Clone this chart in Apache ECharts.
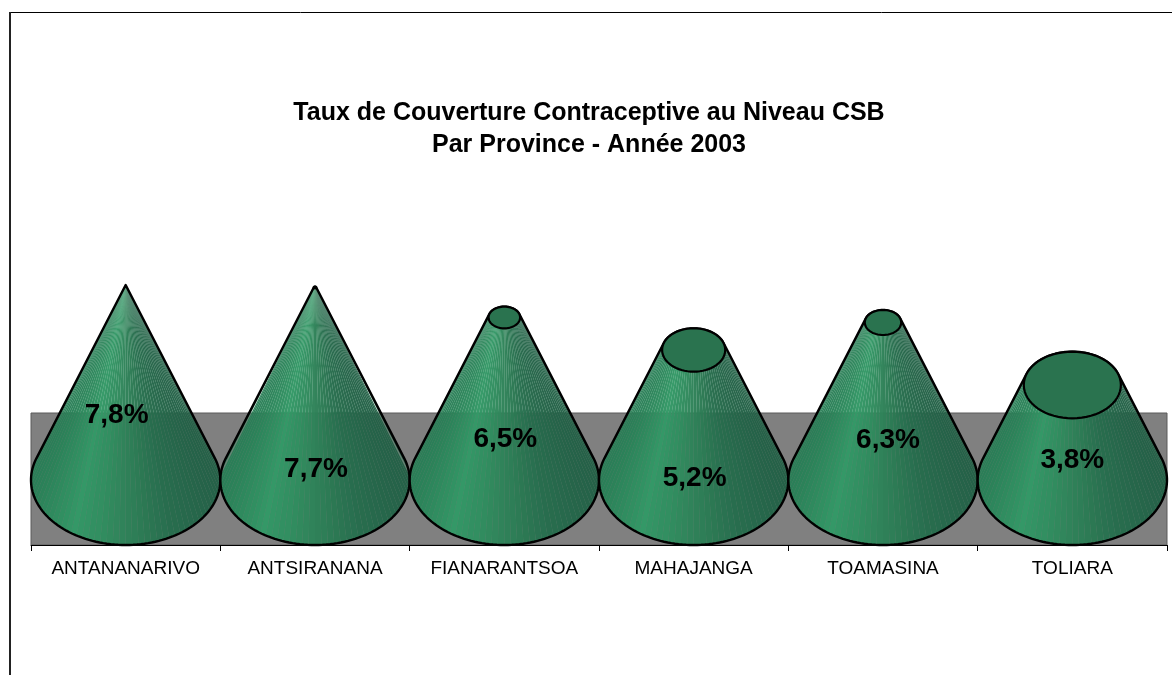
<!DOCTYPE html>
<html>
<head>
<meta charset="utf-8">
<style>html,body{margin:0;padding:0;background:#fff}#c{width:1172px;height:675px}</style>
<script src="https://cdn.jsdelivr.net/npm/echarts@6/dist/echarts.min.js"></script>
</head>
<body>
<div id="c"></div>
<script>
const provinces = ['ANTANANARIVO','ANTSIRANANA','FIANARANTSOA','MAHAJANGA','TOAMASINA','TOLIARA'];
const rates = [7.8,7.7,6.5,5.2,6.3,3.8];
const rateLabels = ['7,8%','7,7%','6,5%','5,2%','6,3%','3,8%'];
// vertical anchor of each data label, in axis units, and its sideways nudge in pixels
const labelAnchors = [2.6,0.44,1.64,0.08,1.6,0.8];
const labelNudges = [-9,1,1,1,5,0];
const axisMin = -2.6, axisMax = 7.8, wallTop = 2.68;

// shade stops: [x on the cone (-1..1), r, g, b]
const shade = [[-1,40,126,86],[-0.55,51,153,102],[0,46,130,88],[0.5,38,108,76],[1,35,96,70]];
function shadeAt(x){
  for(let i=1;i<shade.length;i++){
    if(x<=shade[i][0]){
      const a=shade[i-1],b=shade[i],t=(x-a[0])/(b[0]-a[0]);
      return 'rgba('+[1,2,3].map(k=>Math.round(a[k]+(b[k]-a[k])*t)).join(',')+',0.97)';
    }
  }
  return 'rgb(35,96,70)';
}

function renderCone(params, api){
  const idx = api.value(0), v = api.value(1);
  const base = api.coord([idx,0]), top = api.coord([idx,v]), apex = api.coord([idx,axisMax]);
  const R = api.size([1,0])[0]/2;
  const Ry = api.coord([idx,axisMin])[1]-base[1];
  const cx = base[0], by = base[1], ty = top[1];
  const h = by-apex[1];
  const f = (ty-apex[1])/h;           // top radius as a share of the base radius
  const rx = R*f, ry = Ry*f;
  const tilt = Math.asin(Ry/h);
  const N = 56, kids = [];
  const P = (th,rr,rv,yy)=>[cx+rr*Math.cos(th),yy+rv*Math.sin(th)];
  // silhouette
  const pts=[];
  for(let i=0;i<=96;i++){pts.push(P(-tilt+(Math.PI+2*tilt)*i/96,R,Ry,by));}
  if(f>0.001){
    for(let i=0;i<=48;i++){pts.push(P(Math.PI+tilt+(Math.PI-2*tilt)*i/48,rx,ry,ty));}
  } else {pts.push([cx,ty]);}
  kids.push({type:'polygon',silent:true,shape:{points:pts},
    style:{fill:'rgba(46,130,88,0.25)'}});
  for(let i=0;i<N;i++){
    const a=-tilt+(Math.PI+2*tilt)*i/N, b=-tilt+(Math.PI+2*tilt)*(i+1)/N;
    const m=Math.cos((a+b)/2);
    kids.push({type:'polygon',silent:true,
      shape:{points:[P(a,R,Ry,by),P(b,R,Ry,by),P(b,rx,ry,ty),P(a,rx,ry,ty)]},
      style:{fill:shadeAt(m)}});
  }
  kids.push({type:'polygon',silent:true,shape:{points:pts},
    style:{fill:'none',stroke:'#000',lineWidth:2.4,lineJoin:'round'}});
  if(f>0.001){
    const cap=[];
    for(let i=0;i<64;i++){cap.push(P(2*Math.PI*i/64,rx,ry,ty));}
    kids.push({type:'polygon',silent:true,shape:{points:cap},
      style:{fill:'#2a734f',stroke:'#000',lineWidth:2.2}});
  }
  const lp = api.coord([idx,labelAnchors[idx]]);
  kids.push({type:'text',silent:true,
    style:{x:cx+labelNudges[idx],y:lp[1],text:rateLabels[idx],fill:'#000',
      font:'bold 28px "Liberation Sans", Arial, sans-serif',textAlign:'center',textVerticalAlign:'middle'}});
  return {type:'group',children:kids};
}

const chart = echarts.init(document.getElementById('c'),null,{renderer:'canvas'});
chart.setOption({
  animation:false,
  backgroundColor:'#fff',
  title:{
    text:'Taux de Couverture Contraceptive au Niveau CSB\nPar Province - Année 2003',
    left:584, top:92, textAlign:'center',
    textStyle:{fontFamily:'"Liberation Sans", Arial, sans-serif',fontWeight:'bold',fontSize:25,lineHeight:32,color:'#000'}
  },
  grid:{left:31,right:5,top:285,bottom:130},
  xAxis:{type:'category',data:provinces,boundaryGap:true,
    axisLine:{onZero:false,lineStyle:{color:'#000',width:1}},
    axisTick:{show:true,alignWithLabel:false,length:6,lineStyle:{color:'#000'}},
    axisLabel:{interval:0,color:'#000',fontSize:19,margin:14,fontFamily:'"Liberation Sans", Arial, sans-serif'},
    splitLine:{show:false}},
  yAxis:{type:'value',min:axisMin,max:axisMax,show:false,splitLine:{show:false}},
  graphic:[
    {type:'line',shape:{x1:10,y1:12.5,x2:1172,y2:12.5},style:{stroke:'#000',lineWidth:1},z:-1},
    {type:'line',shape:{x1:10,y1:12,x2:10,y2:675},style:{stroke:'#222',lineWidth:2},z:-1}
  ],
  series:[{
    type:'custom',
    coordinateSystem:'cartesian2d',
    clip:false,
    encode:{x:0,y:1},
    data:rates.map((r,i)=>[i,r]),
    renderItem:renderCone,
    markArea:{silent:true,z:-1,
      itemStyle:{color:'#808080',borderColor:'#5a5a5a',borderWidth:1},
      label:{show:false},
      data:[[{yAxis:wallTop},{yAxis:axisMin}]]}
  }]
});
</script>
</body>
</html>
